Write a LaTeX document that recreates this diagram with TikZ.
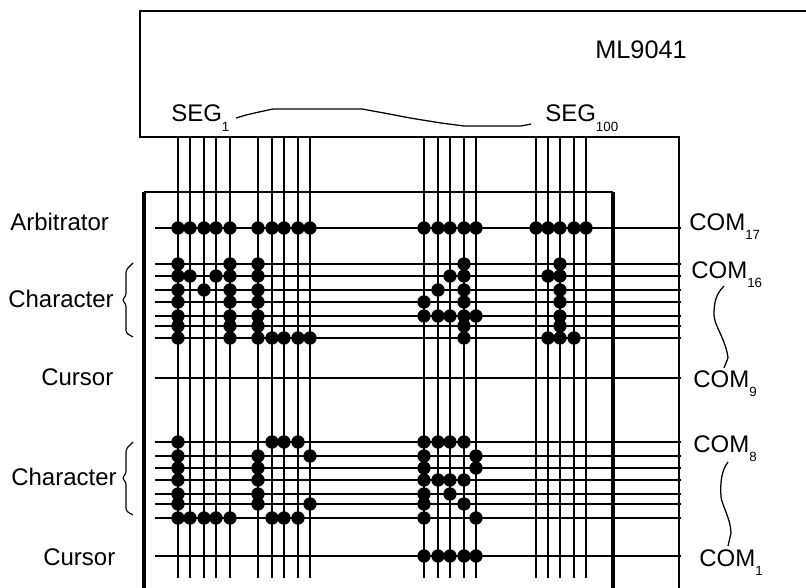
\documentclass[tikz,border=0pt]{standalone}
\usepackage{fontspec}
\setmainfont{Liberation Sans}
\newcommand{\lbl}[1]{\fontsize{18}{20}\selectfont #1}
\newcommand{\sbs}[1]{\raisebox{-7.2pt}{\fontsize{10}{10}\selectfont #1}}
\tikzset{
  x=0.75pt,y=-0.75pt,
  wire/.style={line width=1.1pt,black},
  frame/.style={line width=1.1pt,black},
  thick frame/.style={line width=2.5pt,black},
  wig/.style={line width=0.95pt,black,line join=round},
  bracelet/.style={line width=0.85pt,black,rounded corners=2pt},
  pix/.style={fill=black,circle,inner sep=0pt,minimum size=10pt,draw=none},
  lab/.style={inner sep=0pt,anchor=base west},
}
\begin{document}
\begin{tikzpicture}
\useasboundingbox (0,0) rectangle (806,588);
% controller
\coordinate (topL) at (140,11);
\coordinate (topR) at (806,11);
\coordinate (botL) at (140,137);
\coordinate (botR) at (679,137);
\coordinate (rightEnd) at (679,588);
\draw[frame] (topR) -- (topL) -- (botL) -- (botR) -- (rightEnd);
% panel
\coordinate (panelBL) at (144,588);
\coordinate (panelTL) at (144,192);
\coordinate (panelTR) at (613,192);
\coordinate (panelBR) at (613,588);
\draw[frame] (panelTL) -- (panelTR);
\draw[thick frame] (panelBL) -- (panelTL);
\draw[thick frame] (panelTR) -- (panelBR);
% segment wires
\foreach \x in {178,190,204,216,230,258,272,284,298,310,424,438,450,464,476,536,548,560,574,586}
  \draw[wire] (\x,137) -- (\x,578);
% common wires
\foreach \y in {228,264,276,290,302,316,326,338,378,442,456,468,480,494,504,518,556}
  \draw[wire] (155,\y) -- (681,\y);
% pixels: x / y
\foreach \px/\py in {
 178/228,190/228,204/228,216/228,230/228,258/228,272/228,284/228,298/228,310/228,
 424/228,438/228,450/228,464/228,476/228,536/228,548/228,560/228,574/228,586/228,
 178/264,230/264,178/276,190/276,216/276,230/276,178/290,204/290,230/290,178/302,230/302,178/316,230/316,178/326,230/326,178/338,230/338,
 258/264,258/276,258/290,258/302,258/316,258/326,258/338,272/338,284/338,298/338,310/338,
 464/264,450/276,464/276,438/290,464/290,424/302,464/302,424/316,438/316,450/316,464/316,476/316,464/326,464/338,
 560/264,548/276,560/276,560/290,560/302,560/316,560/326,548/338,560/338,574/338,
 178/442,178/456,178/468,178/480,178/494,178/504,178/518,190/518,204/518,216/518,230/518,
 272/442,284/442,298/442,258/456,310/456,258/468,258/480,258/494,258/504,310/504,272/518,284/518,298/518,
 424/442,438/442,450/442,464/442,424/456,476/456,424/468,476/468,424/480,438/480,450/480,464/480,424/494,450/494,424/504,464/504,424/518,476/518,
 424/556,438/556,450/556,464/556,476/556}
  \node[pix] at (\px,\py) {};
% labels
\node[lab] (ml) at (595,59) {\fontsize{19}{20}\selectfont ML9041};
\node[lab] (seg1) at (171,122) {\lbl{SEG\sbs{1}}};
\node[lab] (segN) at (545,122) {\lbl{SEG\sbs{100}}};
\node[lab] (arb) at (10,230) {\lbl{Arbitrator}};
\node[lab] (ch1) at (8,307) {\lbl{Character}};
\node[lab] (cur1) at (41,385) {\lbl{Cursor}};
\node[lab] (ch2) at (11,485) {\lbl{Character}};
\node[lab] (cur2) at (43,565) {\lbl{Cursor}};
\node[lab] (c17) at (689,230) {\lbl{COM\sbs{17}}};
\node[lab] (c16) at (691,278) {\lbl{COM\sbs{16}}};
\node[lab] (c9) at (693,387) {\lbl{COM\sbs{9}}};
\node[lab] (c8) at (693,452) {\lbl{COM\sbs{8}}};
\node[lab] (c1) at (699,566) {\lbl{COM\sbs{1}}};
% wiggles
\draw[wig] (236,118) -- (246,115) -- (259,112) -- (273,109) -- (362,109) -- (384,113) -- (410,118) -- (441,123) -- (464,126) -- (521,126) -- (531,124);
\draw[wig] (724,286) .. controls (716,294) and (714,302) .. (714,315) .. controls (714,325) and (726,340) .. (728,358) -- (724,368);
\draw[wig] (728,462) .. controls (722,470) and (720,480) .. (721,497) .. controls (722,505) and (731,520) .. (731,533) -- (728,546);
% braces
\draw[bracelet] (133,263) -- (126,270) -- (126,296) -- (122,300) -- (126,304) -- (126,333) -- (133,337);
\draw[bracelet] (133,442) -- (126,449) -- (126,474) -- (122,478) -- (126,482) -- (126,511) -- (133,515);
\end{tikzpicture}
\end{document}
